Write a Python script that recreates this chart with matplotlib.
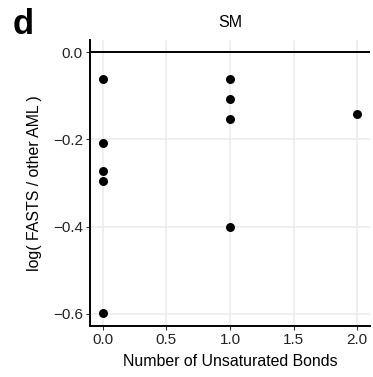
import matplotlib.pyplot as plt

plt.rcParams['font.family'] = ['Liberation Sans', 'DejaVu Sans']

# number of unsaturated bonds vs log ratio
bonds = [0, 0, 0, 0, 0, 1, 1, 1, 1, 2]
log_ratio = [-0.062, -0.208, -0.272, -0.295, -0.598,
             -0.062, -0.108, -0.153, -0.400, -0.142]

xticks = [0.0, 0.5, 1.0, 1.5, 2.0]
yticks = [-0.6, -0.4, -0.2, 0.0]


def main():
    fig = plt.figure(figsize=(3.73, 3.77), dpi=100)
    ax = fig.add_axes([0.241, 0.135, 0.751, 0.759])

    ax.grid(True, color='#EBEBEB', linewidth=1.1, zorder=0)
    ax.set_axisbelow(True)
    ax.axhline(0, color='black', linewidth=1.4, zorder=2)
    ax.scatter(bonds, log_ratio, s=42, color='black', zorder=3, linewidths=0)

    ax.set_xlim(-0.1, 2.1)
    ax.set_ylim(-0.628, 0.028)
    ax.set_xticks(xticks)
    ax.set_xticklabels(['%.1f' % t for t in xticks])
    ax.set_yticks(yticks)
    ax.set_yticklabels(['\u2212%.1f' % abs(t) if t < 0 else '%.1f' % t for t in yticks])

    for s in ['top', 'right']:
        ax.spines[s].set_visible(False)
    for s in ['left', 'bottom']:
        ax.spines[s].set_linewidth(1.4)
        ax.spines[s].set_color('black')

    ax.tick_params(length=3, width=0.8, color='#333333', labelcolor='#222222',
                   labelsize=11, pad=2)
    ax.set_xlabel('Number of Unsaturated Bonds', fontsize=11.4, labelpad=5)
    ax.set_ylabel('log( FASTS / other AML )', fontsize=11.4, labelpad=8)
    ax.set_title('SM', fontsize=11.5, pad=9)

    fig.text(0.033, 0.978, 'd', fontsize=25, fontweight='bold', va='top', ha='left')

    fig.savefig('out.png', dpi=100)


if __name__ == "__main__":
    main()
